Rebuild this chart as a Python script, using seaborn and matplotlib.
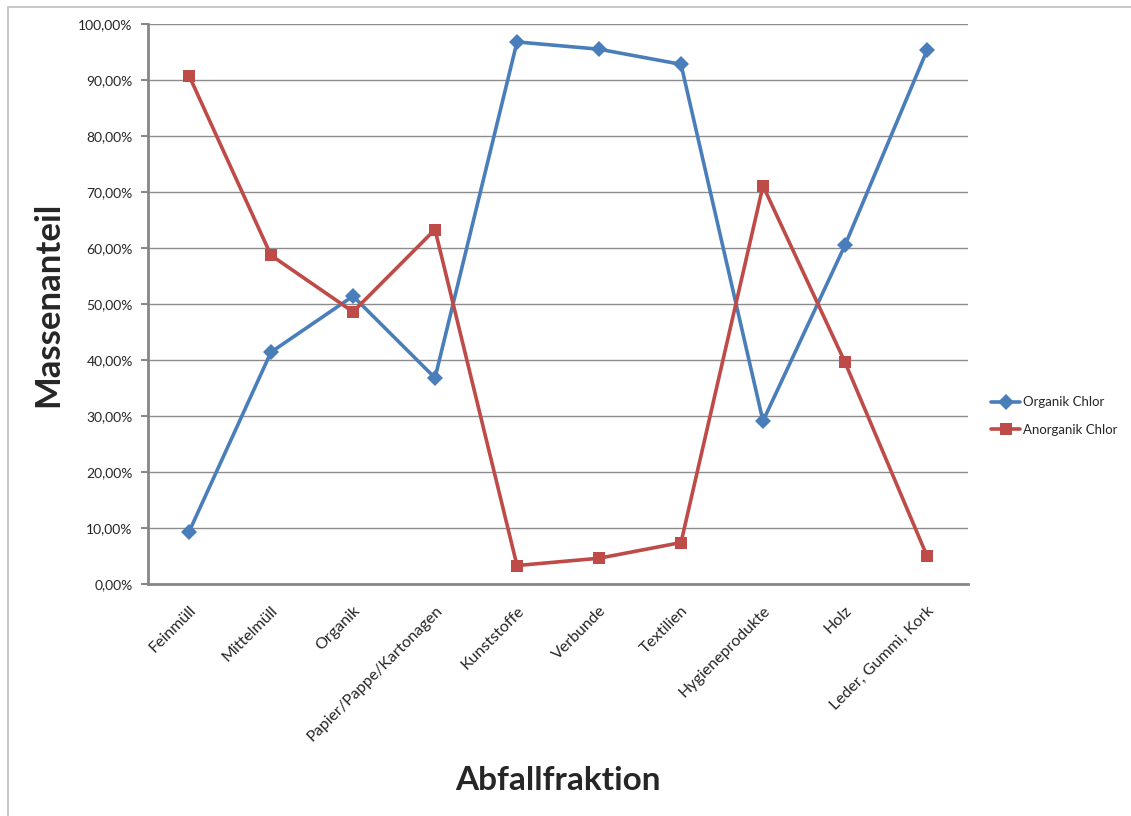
import matplotlib
matplotlib.use("Agg")
import matplotlib.pyplot as plt
from matplotlib.patches import Rectangle
from matplotlib.ticker import FuncFormatter, MultipleLocator
import numpy as np
import pandas as pd
import seaborn as sns

categories = ["Feinmüll", "Mittelmüll", "Organik", "Papier/Pappe/Kartonagen",
              "Kunststoffe", "Verbunde", "Textilien", "Hygieneprodukte",
              "Holz", "Leder, Gummi, Kork"]
organik_chlor = [9.3, 41.4, 51.4, 36.8, 96.8, 95.5, 92.8, 29.1, 60.5, 95.3]
anorganik_chlor = [90.8, 58.7, 48.6, 63.3, 3.3, 4.6, 7.4, 71.1, 39.6, 5.0]
series_names = ["Organik Chlor", "Anorganik Chlor"]

df = pd.DataFrame({
    "pos": list(range(len(categories))) * 2,
    "wert": organik_chlor + anorganik_chlor,
    "serie": [series_names[0]] * len(categories) + [series_names[1]] * len(categories),
})

sns.set_style("white")
plt.rcParams["font.family"] = ["Lato", "DejaVu Sans"]

fig = plt.figure(figsize=(11.31, 8.16), dpi=100)
ax = fig.add_axes([148 / 1131, 1 - 584 / 816, (968 - 148) / 1131, (584 - 24) / 816])

# outer chart frame
fig.patches.append(Rectangle((8 / 1131, -0.05), 1.2, 0.05 + (816 - 7) / 816,
                             transform=fig.transFigure, fill=False,
                             edgecolor="#bfbfbf", linewidth=1.2, zorder=0))

palette = {series_names[0]: "#4A7EBB", series_names[1]: "#BE4B48"}
markers = {series_names[0]: "D", series_names[1]: "s"}
sns.lineplot(data=df, x="pos", y="wert", hue="serie", style="serie",
             palette=palette, markers=markers, dashes=False, linewidth=2.6,
             markersize=8, markeredgewidth=0, ax=ax, zorder=3)

ax.set_xlim(-0.5, len(categories) - 0.5)
ax.set_ylim(0, 100)
ax.yaxis.set_major_locator(MultipleLocator(10))
ax.yaxis.set_major_formatter(FuncFormatter(lambda v, p: f"{v:.2f}%".replace(".", ",")))
ax.grid(axis="y", color="#8c8c8c", linewidth=1.0)
ax.set_axisbelow(True)

for s in ["top", "right"]:
    ax.spines[s].set_visible(False)
for s in ["left", "bottom"]:
    ax.spines[s].set_color("#868686")
    ax.spines[s].set_linewidth(2.0)

ax.set_xticks(range(len(categories)))
ax.set_xticklabels(categories, rotation=45, ha="right", va="top",
                   rotation_mode="anchor", fontsize=11.5)
ax.tick_params(axis="x", length=0, pad=14)
ax.tick_params(axis="y", left=True, length=5, width=1.5, color="#868686",
               labelsize=10, pad=6)

ax.set_xlabel("Abfallfraktion", fontsize=24, fontweight="bold", labelpad=16)
ax.set_ylabel("Massenanteil", fontsize=25, fontweight="bold", labelpad=10)

handles, labels = ax.get_legend_handles_labels()
ax.legend(handles, labels, loc="center left", bbox_to_anchor=(1.022, 0.30),
          frameon=False, fontsize=9.5, handlelength=2.2, handletextpad=0.2,
          labelspacing=1.15, borderaxespad=0)

fig.savefig("out.png", dpi=100, facecolor="white")
